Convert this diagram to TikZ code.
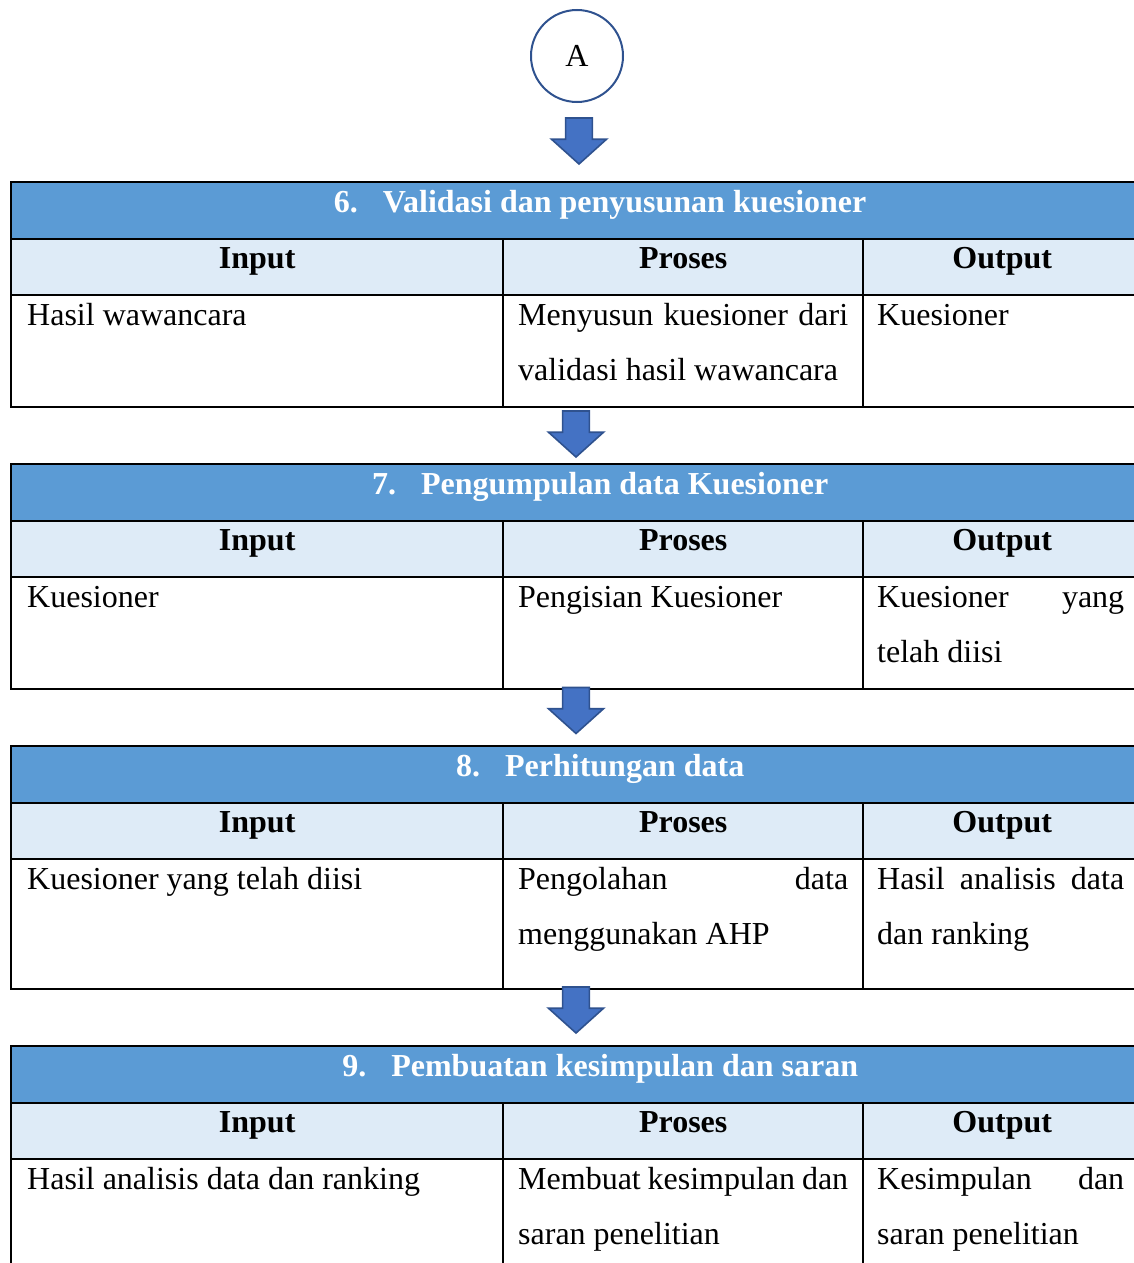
\documentclass[tikz,border=0pt]{standalone}
\usepackage{fontspec}
\setmainfont{Liberation Serif}
\usepackage{xcolor}
\usepackage{tikz}
\usetikzlibrary{shapes.arrows}
\definecolor{flowhead}{HTML}{5B9BD5}
\definecolor{flowsub}{HTML}{DEEBF7}
\definecolor{flowarrow}{HTML}{4472C4}
\definecolor{flowline}{HTML}{2F528F}
\newcommand{\fullline}[1]{\makebox[\hsize][s]{#1}}
\newcommand{\steptitle}[2]{\hspace*{24pt}#1.\hspace{12.5pt}#2}
\tikzset{
  headrow/.style={draw, line width=1.2pt, fill=flowhead, text=white, anchor=north west,
                  minimum width=565pt, inner sep=0pt, text height=15pt, text depth=13.5pt,
                  font=\fontsize{16}{20}\selectfont\bfseries},
  subrow/.style={draw, line width=1.2pt, fill=flowsub, anchor=north west, inner sep=0pt,
                 text height=14.5pt, text depth=13.5pt, font=\fontsize{16}{20}\selectfont\bfseries},
  cell/.style={draw, line width=1.2pt, anchor=north west, align=flush left, inner xsep=8pt,
               inner ysep=0pt, text height=15pt, font=\fontsize{16}{27.5}\selectfont},
  blkarrow/.style={single arrow, shape border rotate=270, draw=flowline, fill=flowarrow,
                   line width=0.8pt, inner sep=6.2pt, text width=0pt, text height=0pt,
                   text depth=0pt, minimum height=23pt, minimum width=27.5pt,
                   single arrow head extend=7pt, single arrow tip angle=96,
                   single arrow head indent=0pt},
  startcirc/.style={circle, draw=flowline, line width=1pt, minimum size=46pt, inner sep=0pt,
                    font=\fontsize{16}{20}\selectfont}
}
\begin{document}
\begin{tikzpicture}[x=0.5pt, y=-0.5pt]
  \useasboundingbox (0,0) rectangle (1134,1263);

  \node[startcirc] (A) at (577,56) {A};
  \node[blkarrow] (ar6) at (579,135) {};

  % 6
  \node[headrow] (h6) at (10,181) {\steptitle{6}{Validasi dan penyusunan kuesioner}};
  \node[subrow, minimum width=246pt] (si6) at (10,238) {Input};
  \node[subrow, minimum width=180pt] (sp6) at (502,238) {Proses};
  \node[subrow, minimum width=139pt] (so6) at (862,238) {Output};
  \node[cell, text width=230pt, text depth=41pt] (bi6) at (10,294) {Hasil wawancara};
  \node[cell, text width=165pt, inner xsep=7.5pt, text depth=41pt] (bp6) at (502,294)
    {\fullline{Menyusun kuesioner dari}\\validasi hasil wawancara};
  \node[cell, text width=123.5pt, inner xsep=7pt, text depth=41pt] (bo6) at (862,294) {Kuesioner};

  \node[blkarrow] (ar7) at (576,428) {};

  % 7
  \node[headrow] (h7) at (10,463) {\steptitle{7}{Pengumpulan data Kuesioner}};
  \node[subrow, minimum width=246pt] (si7) at (10,520) {Input};
  \node[subrow, minimum width=180pt] (sp7) at (502,520) {Proses};
  \node[subrow, minimum width=139pt] (so7) at (862,520) {Output};
  \node[cell, text width=230pt, text depth=41pt] (bi7) at (10,576) {Kuesioner};
  \node[cell, text width=165pt, inner xsep=7.5pt, text depth=41pt] (bp7) at (502,576)
    {Pengisian Kuesioner};
  \node[cell, text width=123.5pt, inner xsep=7pt, text depth=41pt] (bo7) at (862,576)
    {\fullline{Kuesioner yang}\\telah diisi};

  \node[blkarrow] (ar8) at (576,704.5) {};

  % 8
  \node[headrow] (h8) at (10,745) {\steptitle{8}{Perhitungan data}};
  \node[subrow, minimum width=246pt] (si8) at (10,802) {Input};
  \node[subrow, minimum width=180pt] (sp8) at (502,802) {Proses};
  \node[subrow, minimum width=139pt] (so8) at (862,802) {Output};
  \node[cell, text width=230pt, text depth=50pt] (bi8) at (10,858) {Kuesioner yang telah diisi};
  \node[cell, text width=165pt, inner xsep=7.5pt, text depth=50pt] (bp8) at (502,858)
    {\fullline{Pengolahan data}\\menggunakan AHP};
  \node[cell, text width=123.5pt, inner xsep=7pt, text depth=50pt] (bo8) at (862,858)
    {\fullline{Hasil analisis data}\\dan ranking};

  \node[blkarrow] (ar9) at (576,1004) {};

  % 9
  \node[headrow] (h9) at (10,1045) {\steptitle{9}{Pembuatan kesimpulan dan saran}};
  \node[subrow, minimum width=246pt] (si9) at (10,1102) {Input};
  \node[subrow, minimum width=180pt] (sp9) at (502,1102) {Proses};
  \node[subrow, minimum width=139pt] (so9) at (862,1102) {Output};
  \node[cell, text width=230pt, text depth=56pt] (bi9) at (10,1158) {Hasil analisis data dan ranking};
  \node[cell, text width=165pt, inner xsep=7.5pt, text depth=56pt] (bp9) at (502,1158)
    {\fullline{Membuat kesimpulan dan}\\saran penelitian};
  \node[cell, text width=123.5pt, inner xsep=7pt, text depth=56pt] (bo9) at (862,1158)
    {\fullline{Kesimpulan dan}\\saran penelitian};
\end{tikzpicture}
\end{document}
